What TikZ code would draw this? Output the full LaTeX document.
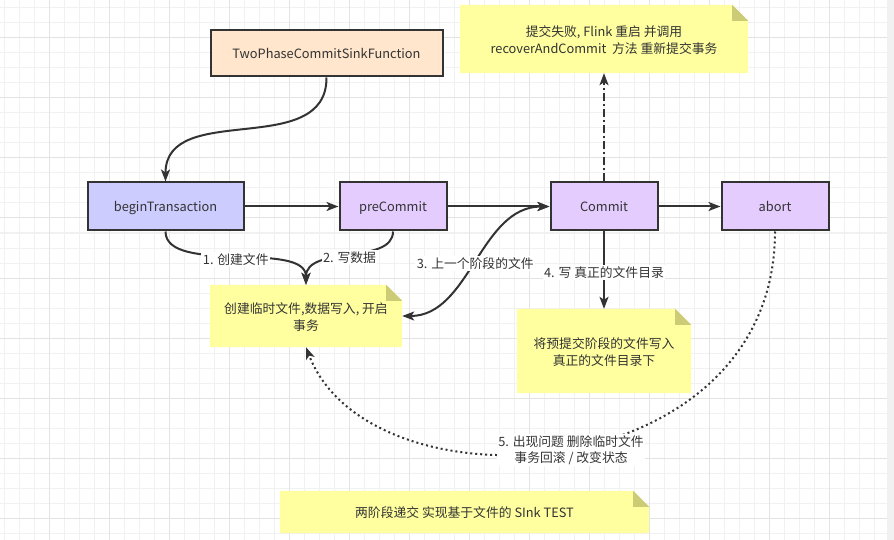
\documentclass[tikz,border=0pt]{standalone}
\usepackage{fontspec}
\setmainfont{Noto Sans CJK SC}
\usetikzlibrary{arrows.meta}
\definecolor{ink}{HTML}{333333}
\definecolor{gridminor}{HTML}{F1F1F1}
\definecolor{gridmajor}{HTML}{E3E3E3}
\definecolor{peach}{HTML}{FFE6CC}
\definecolor{blueish}{HTML}{CCCCFF}
\definecolor{lilac}{HTML}{E5CCFF}
\definecolor{notefill}{HTML}{FFFFA0}
\definecolor{foldfill}{HTML}{CCCC77}
\pgfdeclarelayer{gridlayer}
\pgfdeclarelayer{bg}
\pgfsetlayers{gridlayer,bg,main}
\tikzset{
  box/.style={draw=ink, line width=2pt, text=ink, inner sep=0pt,
    text height=9.5pt, text depth=0pt,
    minimum height=47pt, font=\fontsize{12.8}{16}\selectfont},
  notebox/.style={text=ink, inner sep=0pt, align=center,
    font=\fontsize{12.8}{16.5}\selectfont},
  conn/.style={draw=ink, line width=2pt,
    -{Stealth[length=12pt,width=9pt,inset=3pt]}},
  lbl/.style={fill=white, text=ink, inner sep=1.5pt, align=center, yshift=-2pt,
    font=\fontsize{12.8}{16.5}\selectfont},
  minorline/.style={draw=gridminor, line width=1pt},
  majorline/.style={draw=gridmajor, line width=1pt}
}
\newcommand{\lowtext}[1]{\raisebox{-2.5pt}[\height][\depth]{\begin{tabular}{@{}c@{}}#1\end{tabular}}}
\newcommand{\mynote}[1]{%
  \begin{pgfonlayer}{bg}
    \fill[notefill] (#1.north west) -- ([xshift=-16pt]#1.north east)
      -- ([yshift=-16pt]#1.north east) -- (#1.south east) -- (#1.south west) -- cycle;
    \fill[foldfill] ([xshift=-16pt]#1.north east) -- ([xshift=-16pt,yshift=-16pt]#1.north east)
      -- ([yshift=-16pt]#1.north east) -- cycle;
  \end{pgfonlayer}}
\begin{document}
\begin{tikzpicture}[x=1pt,y=-1pt]
\useasboundingbox (0,0) rectangle (894,540);
\begin{pgfonlayer}{gridlayer}
  \fill[white] (0,0) rectangle (894,540);
  \foreach \x in {4,19,...,889} \draw[minorline] (\x,0) -- (\x,540);
  \foreach \y in {8,23,...,540} \draw[minorline] (0,\y) -- (894,\y);
  \foreach \x in {49,109,...,889} \draw[majorline] (\x,0) -- (\x,540);
  \foreach \y in {38,98,...,540} \draw[majorline] (0,\y) -- (894,\y);
  \fill[gridminor] (887,0) rectangle (894,540);
\end{pgfonlayer}

% boxes
\node[box, fill=peach, minimum width=232pt, minimum height=46pt] (tp) at (326.5,53.5) {TwoPhaseCommitSinkFunction};
\node[box, fill=blueish, minimum width=156pt, minimum height=48pt] (bt) at (165.5,206.5) {beginTransaction};
\node[box, fill=lilac, minimum width=107pt, minimum height=48pt] (pc) at (393,206.5) {preCommit};
\node[box, fill=lilac, minimum width=107pt, minimum height=48pt] (cm) at (604,206.5) {Commit};
\node[box, fill=lilac, minimum width=107pt, minimum height=48pt] (ab) at (775,206.5) {abort};

% notes
\node[notebox, minimum width=288pt, minimum height=68pt] (n1) at (604,39) {\lowtext{提交失败, Flink 重启 并调用\\recoverAndCommit\ \ 方法 重新提交事务}};
\mynote{n1}
\node[notebox, minimum width=192pt, minimum height=62pt] (n2) at (306,316) {\lowtext{创建临时文件,数据写入, 开启\\事务}};
\mynote{n2}
\node[notebox, minimum width=174pt, minimum height=84pt] (n3) at (604,351) {\lowtext{将预提交阶段的文件写入\\真正的文件目录下}};
\mynote{n3}
\node[notebox, minimum width=369pt, minimum height=42pt] (n4) at (464.5,512) {\lowtext{两阶段递交 实现基于文件的 SInk TEST}};
\mynote{n4}

% connectors
\draw[conn] (tp.south) .. controls (327,160) and (165.5,100) .. (bt.north);
\draw[conn] (bt.east) -- (pc.west);
\draw[conn] (pc.east) -- (cm.west);
\draw[conn] (cm.east) -- (ab.west);
\draw[conn, dash pattern=on 8pt off 3pt on 2pt off 3pt] (cm.north) -- (n1.south);
\draw[conn] (cm.south) -- node[lbl, pos=0.5] {4. 写 真正的文件目录} (n3.north);
\draw[conn] (bt.south) .. controls (165.5,275) and (306,240) .. node[lbl, pos=0.5] {1. 创建文件} (n2.north);
\draw[conn] (pc.south) .. controls (393,265) and (306,245) .. node[lbl, pos=0.5] {2. 写数据} (n2.north);
\draw[conn, {Stealth[length=12pt,width=9pt,inset=3pt]}-{Stealth[length=12pt,width=9pt,inset=3pt]}] (n2.east) .. controls (470,316) and (480,206.5) .. node[lbl, pos=0.5] {3. 上一个阶段的文件} (cm.west);
\draw[conn, dash pattern=on 2pt off 3pt] (ab.south) .. controls (775,490) and (370,515) .. node[lbl, pos=0.49] {5. 出现问题 删除临时文件\\事务回滚 / 改变状态} (n2.south);
\end{tikzpicture}
\end{document}
